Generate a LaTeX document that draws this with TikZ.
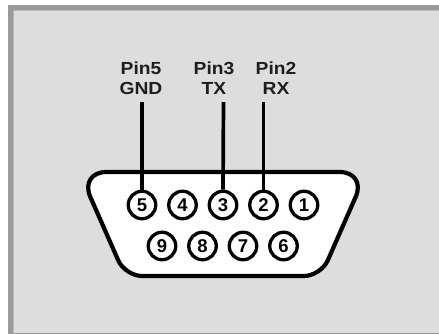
\documentclass[tikz,border=0pt]{standalone}
\usepackage{fontspec}
\newfontfamily\lblfamily{Liberation Sans}[FakeStretch=1.1]
\newfontfamily\digfamily{Liberation Sans}
\definecolor{framegray}{HTML}{9A9A9A}
\definecolor{framelight}{HTML}{B8B8B8}
\definecolor{framefill}{HTML}{DDDDDD}
\definecolor{labelgray}{HTML}{1E1E1E}
\begin{document}
\begin{tikzpicture}[x=1pt,y=-1pt,
  pinc/.style={circle,draw=black,line width=3.3pt,fill=white,minimum size=27.5pt,inner sep=0pt,
    font=\digfamily\bfseries\fontsize{18.5}{18.5}\selectfont},
  lbl/.style={anchor=base,inner sep=0pt,text=labelgray,
    font=\lblfamily\bfseries\fontsize{17.5}{20}\selectfont},
  wire/.style={line width=3.7pt,draw=black},
  shell/.style={line width=4.2pt,draw=black,fill=white}]
\useasboundingbox (0,0) rectangle (439,333);
\fill[white] (0,0) rectangle (439,333);
\draw[draw=framegray,line width=4.5pt,fill=framefill] (10.25,7.25) rectangle (443,335.5);
\draw[draw=framelight,line width=1.5pt] (13.25,10.25) rectangle (446,338);
% connector shell
\draw[shell] (223,172) [rounded corners=27pt] -- (79.4,172) -- (102.25,224)
  [rounded corners=17pt] -- (125.1,276) -- (320.9,276) -- (343.75,224)
  [rounded corners=27pt] -- (366.6,172) -- cycle;
% pins
\node[pinc] (p5) at (142,205) {5};
\node[pinc] (p4) at (182.5,205) {4};
\node[pinc] (p3) at (223,205) {3};
\node[pinc] (p2) at (263.5,205) {2};
\node[pinc] (p1) at (304,205) {1};
\node[pinc] (p9) at (162,246) {9};
\node[pinc] (p8) at (202.5,246) {8};
\node[pinc] (p7) at (243,246) {7};
\node[pinc] (p6) at (283.5,246) {6};
% labels
\node[lbl] (l5a) at (141,74.5) {Pin5};
\node[lbl] (l5b) at (141,94.5) {GND};
\node[lbl] (l3a) at (214,74.5) {Pin3};
\node[lbl] (l3b) at (214,94.5) {TX};
\node[lbl] (l2a) at (276,74.5) {Pin2};
\node[lbl] (l2b) at (276,94.5) {RX};
% wires
\coordinate (w5) at (142,102);
\coordinate (w3) at (223.5,102);
\coordinate (w2) at (263.5,102);
\draw[wire] (w5) -- (p5.north);
\draw[wire] (w3) -- (p3.north);
\draw[wire] (w2) -- (p2.north);
\end{tikzpicture}
\end{document}
